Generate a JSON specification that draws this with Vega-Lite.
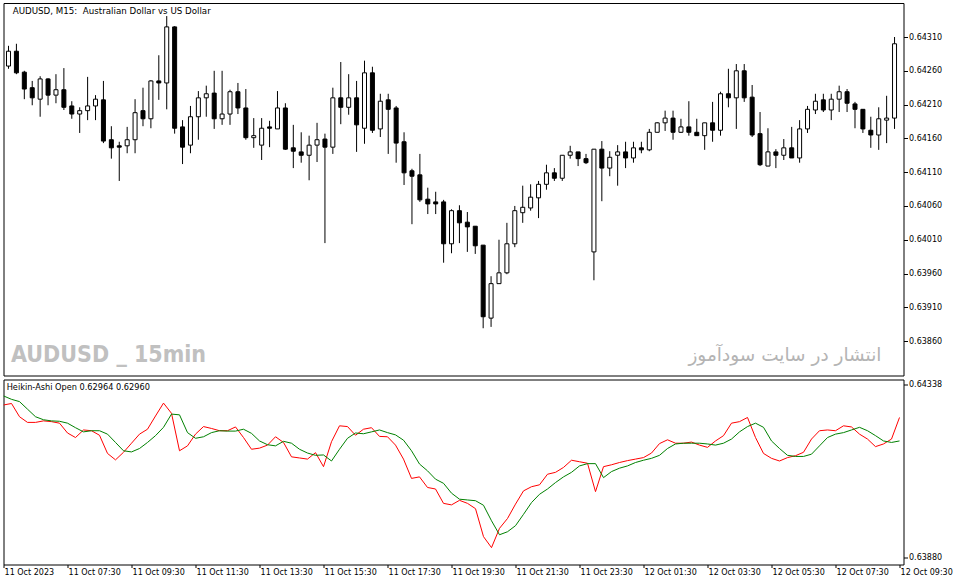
{
  "$schema": "https://vega.github.io/schema/vega-lite/v6.json",
  "background": "white",
  "padding": {"left": 2.5, "top": 2, "right": 0, "bottom": 0},
  "spacing": 2.5,
  "data": {
    "values": [
      {"t": "2023-10-11T05:30:00Z", "o": 0.64267, "h": 0.64297, "l": 0.64263, "c": 0.64289, "r": 0.64283, "g": 0.64307},
      {"t": "2023-10-11T05:45:00Z", "o": 0.64289, "h": 0.64300, "l": 0.64255, "c": 0.64257, "r": 0.64287, "g": 0.64298},
      {"t": "2023-10-11T06:00:00Z", "o": 0.64258, "h": 0.64260, "l": 0.64218, "c": 0.64233, "r": 0.64252, "g": 0.64292},
      {"t": "2023-10-11T06:15:00Z", "o": 0.64235, "h": 0.64245, "l": 0.64209, "c": 0.64220, "r": 0.64237, "g": 0.64272},
      {"t": "2023-10-11T06:30:00Z", "o": 0.64218, "h": 0.64252, "l": 0.64192, "c": 0.64248, "r": 0.64237, "g": 0.64252},
      {"t": "2023-10-11T06:45:00Z", "o": 0.64248, "h": 0.64249, "l": 0.64209, "c": 0.64224, "r": 0.64241, "g": 0.64244},
      {"t": "2023-10-11T07:00:00Z", "o": 0.64224, "h": 0.64255, "l": 0.64212, "c": 0.64232, "r": 0.64239, "g": 0.64241},
      {"t": "2023-10-11T07:15:00Z", "o": 0.64232, "h": 0.64264, "l": 0.64202, "c": 0.64206, "r": 0.64235, "g": 0.64240},
      {"t": "2023-10-11T07:30:00Z", "o": 0.64208, "h": 0.64215, "l": 0.64189, "c": 0.64196, "r": 0.64209, "g": 0.64235},
      {"t": "2023-10-11T07:45:00Z", "o": 0.64196, "h": 0.64206, "l": 0.64168, "c": 0.64201, "r": 0.64197, "g": 0.64223},
      {"t": "2023-10-11T08:00:00Z", "o": 0.64201, "h": 0.64251, "l": 0.64187, "c": 0.64208, "r": 0.64217, "g": 0.64212},
      {"t": "2023-10-11T08:15:00Z", "o": 0.64208, "h": 0.64224, "l": 0.64187, "c": 0.64218, "r": 0.64215, "g": 0.64215},
      {"t": "2023-10-11T08:30:00Z", "o": 0.64217, "h": 0.64245, "l": 0.64153, "c": 0.64156, "r": 0.64203, "g": 0.64215},
      {"t": "2023-10-11T08:45:00Z", "o": 0.64158, "h": 0.64178, "l": 0.64130, "c": 0.64146, "r": 0.64155, "g": 0.64206},
      {"t": "2023-10-11T09:00:00Z", "o": 0.64149, "h": 0.64155, "l": 0.64097, "c": 0.64147, "r": 0.64138, "g": 0.64184},
      {"t": "2023-10-11T09:15:00Z", "o": 0.64149, "h": 0.64177, "l": 0.64138, "c": 0.64158, "r": 0.64158, "g": 0.64162},
      {"t": "2023-10-11T09:30:00Z", "o": 0.64158, "h": 0.64218, "l": 0.64138, "c": 0.64198, "r": 0.64182, "g": 0.64159},
      {"t": "2023-10-11T09:45:00Z", "o": 0.64201, "h": 0.64235, "l": 0.64178, "c": 0.64189, "r": 0.64206, "g": 0.64168},
      {"t": "2023-10-11T10:00:00Z", "o": 0.64189, "h": 0.64246, "l": 0.64175, "c": 0.64245, "r": 0.64219, "g": 0.64184},
      {"t": "2023-10-11T10:15:00Z", "o": 0.64245, "h": 0.64283, "l": 0.64217, "c": 0.64242, "r": 0.64254, "g": 0.64202},
      {"t": "2023-10-11T10:30:00Z", "o": 0.64242, "h": 0.64341, "l": 0.64203, "c": 0.64325, "r": 0.64288, "g": 0.64224},
      {"t": "2023-10-11T10:45:00Z", "o": 0.64325, "h": 0.64326, "l": 0.64167, "c": 0.64175, "r": 0.64261, "g": 0.64259},
      {"t": "2023-10-11T11:00:00Z", "o": 0.64177, "h": 0.64187, "l": 0.64122, "c": 0.64147, "r": 0.64162, "g": 0.64257},
      {"t": "2023-10-11T11:15:00Z", "o": 0.64150, "h": 0.64208, "l": 0.64138, "c": 0.64192, "r": 0.64175, "g": 0.64210},
      {"t": "2023-10-11T11:30:00Z", "o": 0.64192, "h": 0.64230, "l": 0.64158, "c": 0.64220, "r": 0.64206, "g": 0.64195},
      {"t": "2023-10-11T11:45:00Z", "o": 0.64220, "h": 0.64238, "l": 0.64192, "c": 0.64226, "r": 0.64226, "g": 0.64199},
      {"t": "2023-10-11T12:00:00Z", "o": 0.64227, "h": 0.64260, "l": 0.64174, "c": 0.64189, "r": 0.64221, "g": 0.64210},
      {"t": "2023-10-11T12:15:00Z", "o": 0.64189, "h": 0.64260, "l": 0.64180, "c": 0.64196, "r": 0.64215, "g": 0.64215},
      {"t": "2023-10-11T12:30:00Z", "o": 0.64196, "h": 0.64232, "l": 0.64180, "c": 0.64229, "r": 0.64215, "g": 0.64214},
      {"t": "2023-10-11T12:45:00Z", "o": 0.64229, "h": 0.64242, "l": 0.64196, "c": 0.64205, "r": 0.64225, "g": 0.64214},
      {"t": "2023-10-11T13:00:00Z", "o": 0.64205, "h": 0.64233, "l": 0.64158, "c": 0.64161, "r": 0.64197, "g": 0.64219},
      {"t": "2023-10-11T13:15:00Z", "o": 0.64161, "h": 0.64190, "l": 0.64146, "c": 0.64164, "r": 0.64166, "g": 0.64208},
      {"t": "2023-10-11T13:30:00Z", "o": 0.64150, "h": 0.64190, "l": 0.64128, "c": 0.64175, "r": 0.64169, "g": 0.64188},
      {"t": "2023-10-11T13:45:00Z", "o": 0.64177, "h": 0.64186, "l": 0.64147, "c": 0.64175, "r": 0.64177, "g": 0.64178},
      {"t": "2023-10-11T14:00:00Z", "o": 0.64174, "h": 0.64230, "l": 0.64174, "c": 0.64205, "r": 0.64199, "g": 0.64175},
      {"t": "2023-10-11T14:15:00Z", "o": 0.64205, "h": 0.64212, "l": 0.64143, "c": 0.64144, "r": 0.64184, "g": 0.64187},
      {"t": "2023-10-11T14:30:00Z", "o": 0.64146, "h": 0.64180, "l": 0.64116, "c": 0.64141, "r": 0.64146, "g": 0.64182},
      {"t": "2023-10-11T14:45:00Z", "o": 0.64140, "h": 0.64169, "l": 0.64124, "c": 0.64135, "r": 0.64143, "g": 0.64166},
      {"t": "2023-10-11T15:00:00Z", "o": 0.64135, "h": 0.64164, "l": 0.64098, "c": 0.64150, "r": 0.64140, "g": 0.64156},
      {"t": "2023-10-11T15:15:00Z", "o": 0.64150, "h": 0.64183, "l": 0.64125, "c": 0.64158, "r": 0.64157, "g": 0.64150},
      {"t": "2023-10-11T15:30:00Z", "o": 0.64159, "h": 0.64167, "l": 0.64005, "c": 0.64147, "r": 0.64120, "g": 0.64151},
      {"t": "2023-10-11T15:45:00Z", "o": 0.64147, "h": 0.64235, "l": 0.64137, "c": 0.64220, "r": 0.64186, "g": 0.64135},
      {"t": "2023-10-11T16:00:00Z", "o": 0.64220, "h": 0.64273, "l": 0.64181, "c": 0.64206, "r": 0.64228, "g": 0.64166},
      {"t": "2023-10-11T16:15:00Z", "o": 0.64206, "h": 0.64255, "l": 0.64195, "c": 0.64220, "r": 0.64226, "g": 0.64195},
      {"t": "2023-10-11T16:30:00Z", "o": 0.64220, "h": 0.64245, "l": 0.64140, "c": 0.64180, "r": 0.64203, "g": 0.64209},
      {"t": "2023-10-11T16:45:00Z", "o": 0.64175, "h": 0.64275, "l": 0.64152, "c": 0.64257, "r": 0.64219, "g": 0.64207},
      {"t": "2023-10-11T17:00:00Z", "o": 0.64257, "h": 0.64266, "l": 0.64168, "c": 0.64172, "r": 0.64223, "g": 0.64212},
      {"t": "2023-10-11T17:15:00Z", "o": 0.64174, "h": 0.64226, "l": 0.64162, "c": 0.64215, "r": 0.64200, "g": 0.64217},
      {"t": "2023-10-11T17:30:00Z", "o": 0.64217, "h": 0.64226, "l": 0.64137, "c": 0.64203, "r": 0.64199, "g": 0.64210},
      {"t": "2023-10-11T17:45:00Z", "o": 0.64205, "h": 0.64208, "l": 0.64124, "c": 0.64153, "r": 0.64177, "g": 0.64204},
      {"t": "2023-10-11T18:00:00Z", "o": 0.64155, "h": 0.64169, "l": 0.64091, "c": 0.64109, "r": 0.64140, "g": 0.64190},
      {"t": "2023-10-11T18:15:00Z", "o": 0.64112, "h": 0.64115, "l": 0.64033, "c": 0.64104, "r": 0.64089, "g": 0.64162},
      {"t": "2023-10-11T18:30:00Z", "o": 0.64106, "h": 0.64137, "l": 0.64066, "c": 0.64069, "r": 0.64093, "g": 0.64127},
      {"t": "2023-10-11T18:45:00Z", "o": 0.64070, "h": 0.64087, "l": 0.64048, "c": 0.64063, "r": 0.64065, "g": 0.64109},
      {"t": "2023-10-11T19:00:00Z", "o": 0.64066, "h": 0.64081, "l": 0.64048, "c": 0.64063, "r": 0.64061, "g": 0.64087},
      {"t": "2023-10-11T19:15:00Z", "o": 0.64066, "h": 0.64069, "l": 0.63976, "c": 0.64004, "r": 0.64023, "g": 0.64076},
      {"t": "2023-10-11T19:30:00Z", "o": 0.64004, "h": 0.64055, "l": 0.63990, "c": 0.64053, "r": 0.64019, "g": 0.64050},
      {"t": "2023-10-11T19:45:00Z", "o": 0.64053, "h": 0.64061, "l": 0.64005, "c": 0.64035, "r": 0.64031, "g": 0.64034},
      {"t": "2023-10-11T20:00:00Z", "o": 0.64036, "h": 0.64051, "l": 0.63992, "c": 0.64029, "r": 0.64023, "g": 0.64032},
      {"t": "2023-10-11T20:15:00Z", "o": 0.64030, "h": 0.64030, "l": 0.63989, "c": 0.64001, "r": 0.64009, "g": 0.64030},
      {"t": "2023-10-11T20:30:00Z", "o": 0.64002, "h": 0.64002, "l": 0.63879, "c": 0.63896, "r": 0.63935, "g": 0.64018},
      {"t": "2023-10-11T20:45:00Z", "o": 0.63894, "h": 0.63956, "l": 0.63881, "c": 0.63945, "r": 0.63906, "g": 0.63977},
      {"t": "2023-10-11T21:00:00Z", "o": 0.63945, "h": 0.64010, "l": 0.63945, "c": 0.63961, "r": 0.63957, "g": 0.63940},
      {"t": "2023-10-11T21:15:00Z", "o": 0.63961, "h": 0.64035, "l": 0.63959, "c": 0.64004, "r": 0.63983, "g": 0.63948},
      {"t": "2023-10-11T21:30:00Z", "o": 0.64004, "h": 0.64060, "l": 0.63999, "c": 0.64053, "r": 0.64021, "g": 0.63964},
      {"t": "2023-10-11T21:45:00Z", "o": 0.64050, "h": 0.64090, "l": 0.64035, "c": 0.64058, "r": 0.64056, "g": 0.63994},
      {"t": "2023-10-11T22:00:00Z", "o": 0.64057, "h": 0.64092, "l": 0.64053, "c": 0.64073, "r": 0.64067, "g": 0.64025},
      {"t": "2023-10-11T22:15:00Z", "o": 0.64072, "h": 0.64097, "l": 0.64042, "c": 0.64092, "r": 0.64072, "g": 0.64047},
      {"t": "2023-10-11T22:30:00Z", "o": 0.64092, "h": 0.64121, "l": 0.64084, "c": 0.64109, "r": 0.64100, "g": 0.64061},
      {"t": "2023-10-11T22:45:00Z", "o": 0.64109, "h": 0.64116, "l": 0.64097, "c": 0.64101, "r": 0.64105, "g": 0.64078},
      {"t": "2023-10-11T23:00:00Z", "o": 0.64101, "h": 0.64135, "l": 0.64097, "c": 0.64135, "r": 0.64118, "g": 0.64093},
      {"t": "2023-10-11T23:15:00Z", "o": 0.64135, "h": 0.64149, "l": 0.64130, "c": 0.64140, "r": 0.64137, "g": 0.64105},
      {"t": "2023-10-11T23:30:00Z", "o": 0.64140, "h": 0.64140, "l": 0.64119, "c": 0.64130, "r": 0.64133, "g": 0.64122},
      {"t": "2023-10-11T23:45:00Z", "o": 0.64130, "h": 0.64137, "l": 0.64122, "c": 0.64124, "r": 0.64129, "g": 0.64128},
      {"t": "2023-10-12T00:00:00Z", "o": 0.63992, "h": 0.64144, "l": 0.63950, "c": 0.64144, "r": 0.64054, "g": 0.64128},
      {"t": "2023-10-12T00:15:00Z", "o": 0.64144, "h": 0.64156, "l": 0.64067, "c": 0.64116, "r": 0.64120, "g": 0.64091},
      {"t": "2023-10-12T00:30:00Z", "o": 0.64116, "h": 0.64141, "l": 0.64104, "c": 0.64132, "r": 0.64125, "g": 0.64107},
      {"t": "2023-10-12T00:45:00Z", "o": 0.64135, "h": 0.64150, "l": 0.64090, "c": 0.64140, "r": 0.64131, "g": 0.64116},
      {"t": "2023-10-12T01:00:00Z", "o": 0.64140, "h": 0.64155, "l": 0.64116, "c": 0.64131, "r": 0.64136, "g": 0.64122},
      {"t": "2023-10-12T01:15:00Z", "o": 0.64131, "h": 0.64155, "l": 0.64124, "c": 0.64146, "r": 0.64140, "g": 0.64131},
      {"t": "2023-10-12T01:30:00Z", "o": 0.64146, "h": 0.64155, "l": 0.64138, "c": 0.64143, "r": 0.64144, "g": 0.64137},
      {"t": "2023-10-12T01:45:00Z", "o": 0.64143, "h": 0.64174, "l": 0.64141, "c": 0.64169, "r": 0.64156, "g": 0.64142},
      {"t": "2023-10-12T02:00:00Z", "o": 0.64169, "h": 0.64184, "l": 0.64169, "c": 0.64183, "r": 0.64181, "g": 0.64150},
      {"t": "2023-10-12T02:15:00Z", "o": 0.64183, "h": 0.64201, "l": 0.64171, "c": 0.64190, "r": 0.64191, "g": 0.64168},
      {"t": "2023-10-12T02:30:00Z", "o": 0.64190, "h": 0.64201, "l": 0.64158, "c": 0.64169, "r": 0.64182, "g": 0.64180},
      {"t": "2023-10-12T02:45:00Z", "o": 0.64169, "h": 0.64189, "l": 0.64168, "c": 0.64177, "r": 0.64182, "g": 0.64182},
      {"t": "2023-10-12T03:00:00Z", "o": 0.64177, "h": 0.64215, "l": 0.64164, "c": 0.64169, "r": 0.64185, "g": 0.64182},
      {"t": "2023-10-12T03:15:00Z", "o": 0.64169, "h": 0.64189, "l": 0.64164, "c": 0.64164, "r": 0.64177, "g": 0.64182},
      {"t": "2023-10-12T03:30:00Z", "o": 0.64164, "h": 0.64183, "l": 0.64143, "c": 0.64183, "r": 0.64171, "g": 0.64180},
      {"t": "2023-10-12T03:45:00Z", "o": 0.64183, "h": 0.64214, "l": 0.64155, "c": 0.64172, "r": 0.64188, "g": 0.64177},
      {"t": "2023-10-12T04:00:00Z", "o": 0.64172, "h": 0.64229, "l": 0.64164, "c": 0.64226, "r": 0.64202, "g": 0.64182},
      {"t": "2023-10-12T04:15:00Z", "o": 0.64226, "h": 0.64263, "l": 0.64206, "c": 0.64220, "r": 0.64235, "g": 0.64193},
      {"t": "2023-10-12T04:30:00Z", "o": 0.64220, "h": 0.64270, "l": 0.64174, "c": 0.64260, "r": 0.64239, "g": 0.64212},
      {"t": "2023-10-12T04:45:00Z", "o": 0.64260, "h": 0.64270, "l": 0.64214, "c": 0.64220, "r": 0.64250, "g": 0.64226},
      {"t": "2023-10-12T05:00:00Z", "o": 0.64221, "h": 0.64239, "l": 0.64162, "c": 0.64165, "r": 0.64197, "g": 0.64235},
      {"t": "2023-10-12T05:15:00Z", "o": 0.64167, "h": 0.64199, "l": 0.64119, "c": 0.64121, "r": 0.64155, "g": 0.64224},
      {"t": "2023-10-12T05:30:00Z", "o": 0.64119, "h": 0.64175, "l": 0.64119, "c": 0.64140, "r": 0.64142, "g": 0.64188},
      {"t": "2023-10-12T05:45:00Z", "o": 0.64140, "h": 0.64144, "l": 0.64116, "c": 0.64135, "r": 0.64135, "g": 0.64168},
      {"t": "2023-10-12T06:00:00Z", "o": 0.64135, "h": 0.64159, "l": 0.64128, "c": 0.64146, "r": 0.64144, "g": 0.64150},
      {"t": "2023-10-12T06:15:00Z", "o": 0.64146, "h": 0.64177, "l": 0.64131, "c": 0.64131, "r": 0.64149, "g": 0.64147},
      {"t": "2023-10-12T06:30:00Z", "o": 0.64131, "h": 0.64187, "l": 0.64124, "c": 0.64174, "r": 0.64158, "g": 0.64147},
      {"t": "2023-10-12T06:45:00Z", "o": 0.64174, "h": 0.64208, "l": 0.64168, "c": 0.64203, "r": 0.64193, "g": 0.64153},
      {"t": "2023-10-12T07:00:00Z", "o": 0.64202, "h": 0.64226, "l": 0.64196, "c": 0.64215, "r": 0.64215, "g": 0.64175},
      {"t": "2023-10-12T07:15:00Z", "o": 0.64217, "h": 0.64226, "l": 0.64199, "c": 0.64202, "r": 0.64217, "g": 0.64197},
      {"t": "2023-10-12T07:30:00Z", "o": 0.64202, "h": 0.64226, "l": 0.64187, "c": 0.64218, "r": 0.64215, "g": 0.64206},
      {"t": "2023-10-12T07:45:00Z", "o": 0.64218, "h": 0.64238, "l": 0.64199, "c": 0.64229, "r": 0.64228, "g": 0.64210},
      {"t": "2023-10-12T08:00:00Z", "o": 0.64229, "h": 0.64233, "l": 0.64199, "c": 0.64212, "r": 0.64225, "g": 0.64217},
      {"t": "2023-10-12T08:15:00Z", "o": 0.64211, "h": 0.64214, "l": 0.64175, "c": 0.64203, "r": 0.64206, "g": 0.64224},
      {"t": "2023-10-12T08:30:00Z", "o": 0.64203, "h": 0.64203, "l": 0.64168, "c": 0.64174, "r": 0.64193, "g": 0.64215},
      {"t": "2023-10-12T08:45:00Z", "o": 0.64172, "h": 0.64192, "l": 0.64146, "c": 0.64165, "r": 0.64173, "g": 0.64202},
      {"t": "2023-10-12T09:00:00Z", "o": 0.64165, "h": 0.64206, "l": 0.64143, "c": 0.64189, "r": 0.64180, "g": 0.64188},
      {"t": "2023-10-12T09:15:00Z", "o": 0.64187, "h": 0.64223, "l": 0.64153, "c": 0.64190, "r": 0.64193, "g": 0.64184},
      {"t": "2023-10-12T09:30:00Z", "o": 0.64190, "h": 0.64310, "l": 0.64174, "c": 0.64300, "r": 0.64250, "g": 0.64188}
    ]
  },
  "vconcat": [
    {
      "width": 900,
      "height": 372.5,
      "layer": [
        {
          "mark": {"type": "rule", "color": "black", "strokeWidth": 1, "clip": true},
          "encoding": {
            "x": {"field": "t", "type": "temporal", "scale": {"type": "utc", "domain": [1697002200000, 1697103450000]}, "axis": null},
            "y": {
              "field": "h", "type": "quantitative", "title": null,
              "scale": {"domain": [0.6380907, 0.6436034], "nice": false, "zero": false},
              "axis": {"orient": "right", "values": [0.6431, 0.6426, 0.6421, 0.6416, 0.6411, 0.6406, 0.6401, 0.6396, 0.6391, 0.6386], "format": ".5f", "tickSize": 4, "labelPadding": 1}
            },
            "y2": {"field": "l"}
          }
        },
        {
          "mark": {"type": "bar", "size": 4, "stroke": "black", "strokeWidth": 1, "clip": true},
          "encoding": {
            "x": {"field": "t", "type": "temporal", "scale": {"type": "utc"}, "axis": null},
            "y": {"field": "o", "type": "quantitative", "title": null},
            "y2": {"field": "c"},
            "fill": {"condition": {"test": "datum.c >= datum.o", "value": "white"}, "value": "black"}
          }
        },
        {
          "data": {"values": [{}]},
          "mark": {"type": "text", "text": "AUDUSD, M15: \u00a0Australian Dollar vs US Dollar", "align": "left", "baseline": "middle", "dx": 4.2, "dy": 8, "font": "DejaVu Sans", "fontSize": 8.7, "color": "black"},
          "encoding": {
            "x": {"datum": 1697002200000, "type": "temporal", "scale": {"type": "utc"}, "axis": null},
            "y": {"datum": 0.6436034, "type": "quantitative", "title": null}
          }
        },
        {
          "data": {"values": [{}]},
          "mark": {"type": "text", "text": "AUDUSD _ 15min", "align": "left", "baseline": "alphabetic", "dx": 2.5, "font": "DejaVu Sans Condensed, Liberation Sans Narrow, sans-serif", "fontSize": 23, "fontWeight": "bold", "color": "#c0c0c0"},
          "encoding": {
            "x": {"datum": 1697002200000, "type": "temporal", "scale": {"type": "utc"}, "axis": null},
            "y": {"datum": 0.63829, "type": "quantitative", "title": null}
          }
        },
        {
          "data": {"values": [{}]},
          "mark": {"type": "text", "text": "انتشار در سایت سودآموز", "align": "right", "baseline": "alphabetic", "dx": -17, "font": "DejaVu Sans", "fontSize": 18.5, "color": "#b4b4b4"},
          "encoding": {
            "x": {"datum": 1697103450000, "type": "temporal", "scale": {"type": "utc"}, "axis": null},
            "y": {"datum": 0.63831, "type": "quantitative", "title": null}
          }
        }
      ]
    },
    {
      "width": 900,
      "height": 185,
      "layer": [
        {
          "mark": {"type": "line", "color": "#ff0000", "strokeWidth": 1, "clip": true},
          "encoding": {
            "x": {
              "field": "t", "type": "temporal", "title": null,
              "scale": {"type": "utc", "domain": [1697002200000, 1697103450000]},
              "axis": {
                "values": [1697002200000, 1697009400000, 1697016600000, 1697023800000, 1697031000000, 1697038200000, 1697045400000, 1697052600000, 1697059800000, 1697067000000, 1697074200000, 1697081400000, 1697088600000, 1697095800000, 1697103000000],
                "labelExpr": "time(datum.value) == 1697002200000 ? '11 Oct 2023' : utcFormat(datum.value, '%d %b %H:%M')",
                "tickSize": 3, "labelPadding": 1, "labelAlign": "left", "labelBaseline": "top",
                "labelFlush": false, "labelOverlap": false, "labelOffset": 0.6
              }
            },
            "y": {
              "field": "r", "type": "quantitative", "title": null,
              "scale": {"domain": [0.638614, 0.643504], "nice": false, "zero": false},
              "axis": {"orient": "right", "values": [0.64338, 0.6388], "format": ".5f", "tickSize": 4, "labelPadding": 1}
            }
          }
        },
        {
          "mark": {"type": "line", "color": "#008000", "strokeWidth": 1, "clip": true},
          "encoding": {
            "x": {"field": "t", "type": "temporal", "scale": {"type": "utc"}, "title": null},
            "y": {"field": "g", "type": "quantitative", "title": null}
          }
        },
        {
          "data": {"values": [{}]},
          "mark": {"type": "text", "text": "Heikin-Ashi Open 0.62964 0.62960", "align": "left", "baseline": "middle", "dx": 3.2, "dy": 8.5, "font": "DejaVu Sans", "fontSize": 8.2, "color": "black"},
          "encoding": {
            "x": {"datum": 1697002200000, "type": "temporal", "scale": {"type": "utc"}, "title": null},
            "y": {"datum": 0.643504, "type": "quantitative", "title": null}
          }
        }
      ]
    }
  ],
  "config": {
    "view": {"stroke": "black", "strokeWidth": 1},
    "axis": {"domain": false, "grid": false, "labelFont": "DejaVu Sans", "labelFontSize": 8, "labelColor": "black", "tickColor": "black", "tickWidth": 1}
  }
}
